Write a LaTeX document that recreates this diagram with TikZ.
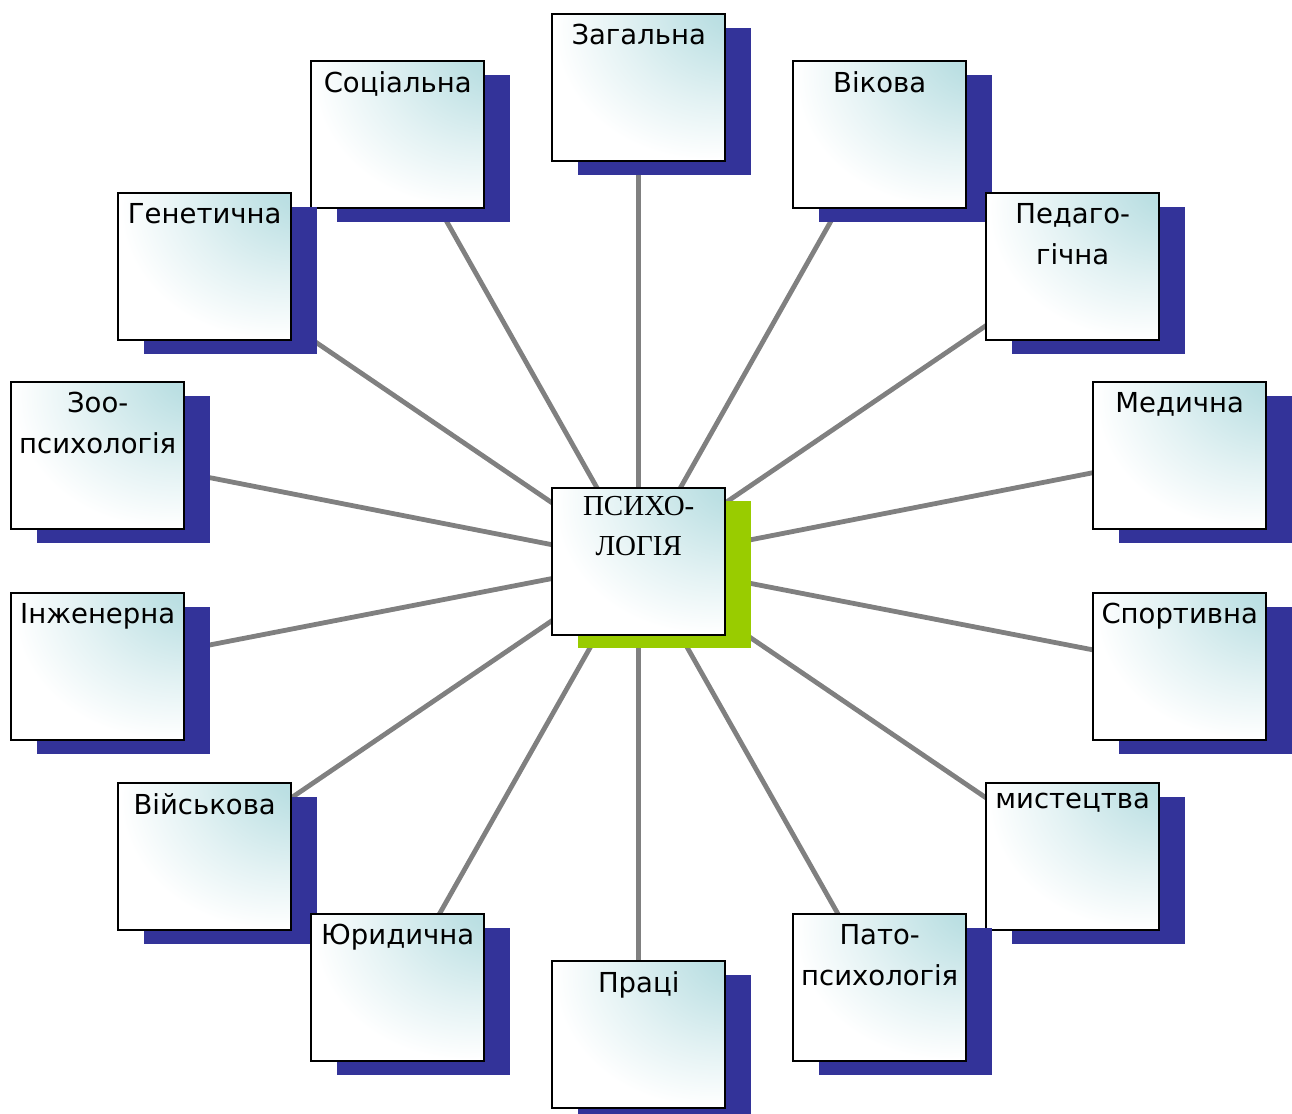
\documentclass[tikz,border=0pt]{standalone}
\usepackage{fontspec}
\setmainfont{DejaVu Sans}
\newfontfamily\timesfont{Liberation Serif}
\usetikzlibrary{shadows,backgrounds}
\definecolor{boxcyan}{RGB}{176,218,222}
\definecolor{shadownavy}{RGB}{51,51,153}
\definecolor{shadowgreen}{RGB}{153,204,0}
\definecolor{linkgray}{RGB}{128,128,128}
\pgfdeclareradialshading{topright}{\pgfpoint{35bp}{35bp}}{color(0bp)=(boxcyan); color(12bp)=(boxcyan!85!white); color(30bp)=(boxcyan!35!white); color(44bp)=(white); color(100bp)=(white)}
\tikzset{
  sbox/.style={draw=black, line width=2.4pt, inner sep=0pt, anchor=north west,
    shading=topright},
  navyshadow/.style={general shadow={fill=shadownavy, shadow xshift=26pt, shadow yshift=-14pt}},
  greenshadow/.style={general shadow={fill=shadowgreen, shadow xshift=26pt, shadow yshift=-13pt}},
  link/.style={draw=linkgray, line width=4.8pt}
}
\newcommand{\boxtext}[1]{\parbox[c][147pt][t]{173pt}{\centering\fontsize{27.5}{41}\selectfont\vspace*{10pt}#1}}
\newcommand{\centtext}[1]{\parbox[c][147pt][t]{173pt}{\centering\timesfont\fontsize{29}{40}\selectfont\vspace*{8pt}#1}}
\begin{document}
\begin{tikzpicture}[x=1pt,y=-1pt]
\useasboundingbox (0,0) rectangle (1292,1113);
\node[sbox,greenshadow] (c) at (551,487) {\centtext{ПСИХО-\\ЛОГІЯ}};
\node[sbox,navyshadow] (zag) at (551,13) {\boxtext{Загальна}};
\node[sbox,navyshadow] (soc) at (310,60) {\boxtext{Соціальна}};
\node[sbox,navyshadow] (vik) at (792,60) {\boxtext{Вікова}};
\node[sbox,navyshadow] (gen) at (117,192) {\boxtext{Генетична}};
\node[sbox,navyshadow] (ped) at (985,192) {\boxtext{Педаго-\\гічна}};
\node[sbox,navyshadow] (zoo) at (10,381) {\boxtext{Зоо-\\психологія}};
\node[sbox,navyshadow] (med) at (1092,381) {\boxtext{Медична}};
\node[sbox,navyshadow] (inz) at (10,592) {\boxtext{Інженерна}};
\node[sbox,navyshadow] (spo) at (1092,592) {\boxtext{Спортивна}};
\node[sbox,navyshadow] (vij) at (117,782) {\boxtext{Військова}};
\node[sbox,navyshadow] (mys) at (985,782) {\boxtext{мистецтва}};
\node[sbox,navyshadow] (jur) at (310,913) {\boxtext{Юридична}};
\node[sbox,navyshadow] (pat) at (792,913) {\boxtext{Пато-\\психологія}};
\node[sbox,navyshadow] (pra) at (551,960) {\boxtext{Праці}};
\begin{scope}[on background layer]
\foreach \n in {zag,soc,vik,gen,ped,zoo,med,inz,spo,vij,mys,jur,pat,pra}
  \draw[link] (c.center) -- (\n.center);
\end{scope}
\end{tikzpicture}
\end{document}
